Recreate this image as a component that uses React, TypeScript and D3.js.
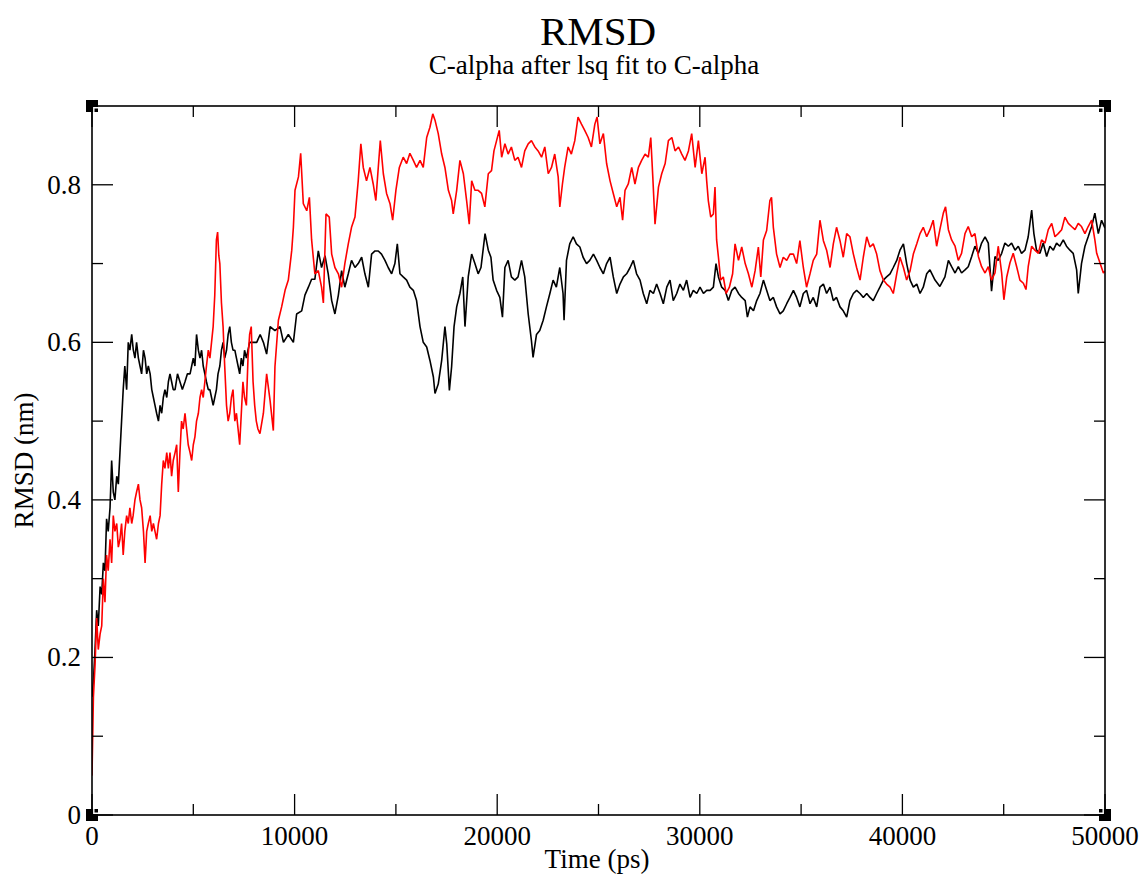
import React from "react";
import * as d3 from "d3";

// ---- data (time in ps, RMSD in nm) ----
const blackSeries: [number, number][] = [
  [0,0.15],[70,0.17],[150,0.21],[230,0.26],[310,0.24],[400,0.29],[480,0.28],[560,0.32],[640,0.31],[720,0.376],[800,0.36],[890,0.39],[970,0.45],[1050,0.41],[1130,0.40],[1220,0.43],[1300,0.42],[1380,0.46],[1460,0.50],[1540,0.54],[1620,0.57],[1710,0.54],[1790,0.60],[1870,0.59],[1960,0.61],[2040,0.59],[2120,0.58],[2200,0.60],[2290,0.58],[2370,0.57],[2450,0.56],[2540,0.59],[2620,0.58],[2700,0.56],[2780,0.57],[2870,0.56],[2950,0.54],[3030,0.53],[3110,0.52],[3190,0.51],[3280,0.50],[3360,0.52],[3440,0.51],[3520,0.53],[3600,0.54],[3690,0.53],[3770,0.55],[3850,0.56],[3930,0.55],[4010,0.54],[4100,0.54],[4220,0.56],[4340,0.55],[4460,0.54],[4590,0.55],[4710,0.56],[4840,0.56],[4920,0.57],[5000,0.58],[5080,0.57],[5160,0.61],[5250,0.59],[5330,0.58],[5410,0.59],[5490,0.57],[5570,0.56],[5650,0.55],[5740,0.54],[5820,0.54],[5900,0.53],[5980,0.52],[6060,0.53],[6140,0.54],[6220,0.56],[6310,0.57],[6390,0.59],[6470,0.60],[6550,0.58],[6640,0.59],[6720,0.61],[6800,0.62],[6880,0.60],[6960,0.59],[7050,0.59],[7130,0.58],[7210,0.57],[7290,0.56],[7370,0.58],[7450,0.57],[7530,0.59],[7620,0.58],[7700,0.59],[7780,0.60],
  [7950,0.60],[8130,0.60],[8300,0.61],[8460,0.60],[8620,0.585],[8790,0.62],[9030,0.615],[9280,0.62],[9450,0.60],[9690,0.61],[9940,0.60],[10100,0.636],[10350,0.64],[10510,0.66],[10680,0.67],[10840,0.68],[11000,0.68],[11170,0.716],[11330,0.695],[11500,0.71],[11660,0.687],[11830,0.653],[11990,0.636],[12160,0.66],[12320,0.691],[12480,0.67],[12650,0.687],[12810,0.704],[12980,0.695],[13140,0.70],[13310,0.708],[13470,0.687],[13640,0.67],[13800,0.712],[13970,0.716],[14130,0.716],[14290,0.712],[14460,0.704],[14620,0.695],[14790,0.687],[14950,0.70],[15070,0.725],[15200,0.687],[15360,0.683],[15530,0.679],[15690,0.67],[15860,0.666],[16020,0.653],[16190,0.62],
  [16350,0.60],[16520,0.594],[16680,0.577],[16850,0.556],[16930,0.535],[17090,0.547],[17260,0.577],[17420,0.62],[17510,0.598],[17640,0.539],[17750,0.569],[17870,0.62],[18000,0.645],[18160,0.662],[18300,0.683],[18410,0.62],[18570,0.683],[18740,0.712],[18900,0.70],[19060,0.687],[19200,0.695],[19400,0.738],[19560,0.717],[19690,0.708],[19800,0.679],[19970,0.666],[20130,0.657],[20260,0.632],[20380,0.695],[20540,0.704],[20700,0.683],[20870,0.679],[21030,0.683],[21200,0.704],[21360,0.683],[21530,0.636],[21690,0.602],[21770,0.581],[21940,0.61],[22100,0.615],[22270,0.628],[22430,0.645],[22600,0.662],[22760,0.679],[22920,0.67],[23090,0.695],[23250,0.662],[23300,0.628],[23420,0.704],[23580,0.725],[23750,0.734],[23910,0.725],[24080,0.721],[24240,0.708],[24410,0.70],[24570,0.704],
  [24750,0.712],[24910,0.704],[25070,0.695],[25240,0.687],[25400,0.70],[25570,0.708],[25730,0.683],[25900,0.662],[26060,0.674],[26230,0.683],[26390,0.687],[26560,0.695],[26720,0.704],[26880,0.687],[27050,0.679],[27210,0.662],[27380,0.649],[27540,0.666],[27710,0.662],[27870,0.674],[28040,0.662],[28200,0.649],[28370,0.67],[28530,0.679],[28690,0.653],[28860,0.662],[29020,0.674],[29190,0.666],[29350,0.679],[29520,0.657],[29680,0.666],[29850,0.662],[30010,0.67],[30180,0.662],[30340,0.666],[30510,0.666],[30670,0.67],[30800,0.70],[30920,0.683],[31080,0.67],[31250,0.666],[31410,0.653],[31580,0.666],[31740,0.67],[31910,0.662],[32070,0.657],[32240,0.653],[32350,0.632],[32480,0.645],[32650,0.64],[32810,0.653],
  [32970,0.662],[33140,0.679],[33300,0.666],[33460,0.653],[33630,0.657],[33790,0.645],[33960,0.636],[34120,0.64],[34290,0.649],[34450,0.657],[34620,0.666],[34780,0.657],[34940,0.645],[35110,0.662],[35270,0.666],[35440,0.649],[35600,0.657],[35770,0.645],[35930,0.67],[36100,0.674],[36260,0.662],[36430,0.67],[36590,0.653],[36750,0.657],[36920,0.645],[37080,0.64],[37250,0.632],[37410,0.653],[37580,0.662],[37740,0.666],[37910,0.662],[38070,0.657],[38240,0.662],[38400,0.657],[38560,0.653],[38730,0.662],[38890,0.67],[39060,0.679],[39220,0.683],[39390,0.687],[39550,0.695],[39720,0.704],[39880,0.717],[40050,0.725],[40210,0.70],[40380,0.679],[40540,0.67],[40710,0.674],[40870,0.662],[41030,0.67],[41200,0.687],
  [41360,0.692],[41610,0.679],[41850,0.671],[42100,0.683],[42270,0.704],[42430,0.696],[42600,0.688],[42760,0.696],[42920,0.688],[43090,0.692],[43250,0.696],[43420,0.709],[43580,0.722],[43750,0.713],[43910,0.726],[44080,0.734],[44240,0.726],[44400,0.665],[44570,0.709],[44730,0.704],[44900,0.713],[45060,0.726],[45230,0.722],[45390,0.726],[45560,0.717],[45720,0.722],[45880,0.713],[46050,0.717],[46210,0.734],[46380,0.768],[46490,0.738],[46620,0.717],[46790,0.713],[46950,0.726],[47120,0.709],[47280,0.722],[47450,0.717],[47610,0.726],[47770,0.722],[47940,0.73],[48100,0.722],[48270,0.717],[48430,0.713],[48600,0.692],[48680,0.662],[48840,0.70],[49010,0.722],[49170,0.734],[49340,0.747],[49500,0.764],[49670,0.738],[49830,0.755],[50000,0.745],
];

const redSeries: [number, number][] = [
  [0,0.05],[70,0.15],[150,0.19],[230,0.25],[310,0.21],[400,0.23],[480,0.24],[560,0.30],[640,0.27],[720,0.33],[800,0.31],[890,0.35],[970,0.32],[1050,0.38],[1130,0.36],[1220,0.37],[1300,0.34],[1380,0.35],[1460,0.37],[1540,0.33],[1620,0.36],[1710,0.38],[1790,0.37],[1870,0.39],[1960,0.37],[2030,0.38],[2120,0.40],[2200,0.41],[2290,0.42],[2370,0.40],[2450,0.39],[2540,0.36],[2620,0.32],[2700,0.36],[2780,0.37],[2870,0.38],[2950,0.36],[3030,0.37],[3110,0.36],[3190,0.35],[3280,0.37],[3360,0.38],[3440,0.42],[3520,0.45],[3600,0.44],[3690,0.46],[3770,0.44],[3850,0.46],[3930,0.43],[4010,0.45],[4100,0.46],[4180,0.47],[4260,0.41],[4340,0.46],[4420,0.50],[4500,0.49],[4590,0.51],[4670,0.49],[4750,0.47],[4840,0.46],[4920,0.45],[5000,0.47],[5080,0.48],[5160,0.50],[5250,0.51],[5330,0.53],[5410,0.54],[5490,0.53],[5570,0.55],[5650,0.57],[5740,0.59],[5820,0.58],[5900,0.60],[5980,0.62],[6060,0.66],[6140,0.73],[6200,0.74],[6260,0.71],[6310,0.70],[6390,0.65],[6470,0.62],[6550,0.57],[6640,0.52],[6720,0.50],[6800,0.51],[6880,0.53],[6960,0.54],[7050,0.50],[7130,0.51],[7210,0.49],[7290,0.47],[7370,0.51],[7450,0.55],[7530,0.53],[7620,0.52],[7700,0.58],[7780,0.61],[7860,0.62],[7950,0.55],[8030,0.52],[8110,0.50],[8190,0.49],[8290,0.484],[8460,0.51],[8620,0.56],[8790,0.526],[8950,0.488],[9030,0.569],[9200,0.628],[9360,0.645],[9530,0.666],[9690,0.679],[9860,0.717],[9940,0.746],[10020,0.793],[10190,0.81],[10300,0.84],[10430,0.776],[10600,0.767],[10730,0.784],[10840,0.73],[11000,0.687],[11170,0.691],[11330,0.67],[11420,0.65],[11550,0.763],[11710,0.759],[11830,0.712],[11990,0.695],[12160,0.687],[12320,0.67],[12480,0.70],[12650,0.725],[12810,0.746],[12980,0.759],[13140,0.805],[13270,0.852],[13390,0.822],[13550,0.805],[13720,0.822],[13880,0.801],[14010,0.78],[14130,0.822],[14230,0.856],[14380,0.814],[14540,0.789],[14710,0.776],[14840,0.755],[15000,0.793],[15170,0.822],[15360,0.835],[15530,0.827],[15690,0.84],[15860,0.831],[16020,0.822],[16190,0.831],
  [16350,0.822],[16520,0.86],[16680,0.873],[16820,0.89],[16930,0.882],[17090,0.865],[17260,0.839],[17420,0.822],[17590,0.793],[17750,0.78],[17830,0.763],[18000,0.793],[18160,0.831],[18330,0.814],[18490,0.78],[18620,0.75],[18740,0.805],[18900,0.793],[19060,0.793],[19230,0.789],[19390,0.772],[19560,0.814],[19720,0.818],[19840,0.843],[19970,0.856],[20100,0.869],[20220,0.835],[20380,0.852],[20540,0.839],[20700,0.848],[20870,0.831],[21030,0.835],[21200,0.822],[21360,0.843],[21530,0.852],[21690,0.856],[21860,0.848],[22020,0.843],[22190,0.835],[22350,0.848],[22520,0.814],[22680,0.822],[22840,0.839],[23010,0.81],[23090,0.772],[23220,0.801],[23330,0.822],[23500,0.848],[23660,0.839],[23830,0.856],[23990,0.886],[24160,0.877],[24320,0.869],[24490,0.86],[24650,0.848],[24820,0.877],[24930,0.886],
  [25070,0.852],[25240,0.865],[25400,0.827],[25570,0.805],[25730,0.789],[25900,0.772],[26060,0.784],[26190,0.755],[26310,0.793],[26470,0.801],[26640,0.822],[26800,0.801],[26970,0.822],[27130,0.831],[27300,0.839],[27460,0.835],[27580,0.86],[27680,0.81],[27790,0.75],[27960,0.797],[28120,0.814],[28290,0.827],[28450,0.856],[28620,0.86],[28780,0.843],[28950,0.848],[29110,0.839],[29270,0.831],[29440,0.843],[29600,0.865],[29770,0.822],[29930,0.856],[30100,0.814],[30260,0.835],[30340,0.805],[30420,0.78],[30540,0.759],[30670,0.763],[30750,0.797],[30830,0.73],[30920,0.708],[31030,0.679],[31160,0.683],[31300,0.662],[31460,0.67],[31620,0.687],[31740,0.725],[31910,0.704],[32070,0.721],[32240,0.70],[32400,0.687],[32570,0.67],[32730,0.691],[32890,0.721],[33010,0.683],
  [33140,0.73],[33300,0.742],[33460,0.78],[33540,0.784],[33630,0.746],[33790,0.712],[33960,0.695],[34120,0.708],[34290,0.704],[34450,0.712],[34620,0.712],[34780,0.70],[34940,0.729],[35110,0.695],[35270,0.67],[35440,0.687],[35600,0.704],[35770,0.712],[35930,0.755],[36100,0.729],[36260,0.717],[36430,0.695],[36590,0.725],[36750,0.746],[36920,0.729],[37080,0.708],[37250,0.738],[37410,0.734],[37580,0.712],[37740,0.695],[37910,0.679],[38070,0.708],[38240,0.734],[38400,0.721],[38560,0.725],[38730,0.712],[38890,0.691],[39060,0.679],[39220,0.674],[39390,0.67],[39550,0.662],[39720,0.687],[39880,0.708],[40050,0.695],[40210,0.679],[40380,0.691],[40540,0.712],[40710,0.725],[40870,0.738],[41030,0.746],[41200,0.734],
  [41360,0.743],[41520,0.755],[41690,0.722],[41850,0.743],[42020,0.764],[42130,0.772],[42270,0.743],[42430,0.73],[42600,0.722],[42760,0.704],[42920,0.713],[43090,0.738],[43250,0.747],[43420,0.734],[43580,0.738],[43750,0.709],[43910,0.696],[44080,0.688],[44240,0.696],[44400,0.679],[44570,0.688],[44730,0.722],[44900,0.688],[45010,0.654],[45150,0.683],[45310,0.701],[45470,0.713],[45640,0.696],[45800,0.679],[45970,0.675],[46100,0.667],[46210,0.696],[46380,0.722],[46540,0.717],[46710,0.713],[46870,0.73],[47040,0.726],[47200,0.743],[47370,0.751],[47530,0.734],[47690,0.738],[47860,0.743],[48020,0.759],[48190,0.751],[48350,0.747],[48520,0.743],[48680,0.751],[48840,0.747],[49010,0.738],[49170,0.747],[49340,0.755],[49500,0.73],[49590,0.713],[49750,0.701],[49920,0.688],[50000,0.69],
];

const xMajorTicks = [0, 10000, 20000, 30000, 40000, 50000];
const xMinorTicks = [5000, 15000, 25000, 35000, 45000];
const yMajorTicks = [0, 0.2, 0.4, 0.6, 0.8];
const yMinorTicks = [0.1, 0.3, 0.5, 0.7];
const yTickLabels = ["0", "0.2", "0.4", "0.6", "0.8"];

const titleText = "RMSD";
const subtitleText = "C-alpha after lsq fit to C-alpha";
const xLabelText = "Time (ps)";
const yLabelText = "RMSD (nm)";

const W = 1143;
const H = 879;
const L = 92, R = 1105, T = 106, B = 815;
const FONT = "'Liberation Serif', 'Times New Roman', serif";

export default function App() {
  const x = d3.scaleLinear().domain([0, 50000]).range([L, R]);
  const y = d3.scaleLinear().domain([0, 0.9]).range([B, T]);
  const line = d3
    .line<[number, number]>()
    .x((d) => x(d[0]))
    .y((d) => y(d[1]));

  const major = 21;
  const minor = 11;
  const corners: [number, number, number, number][] = [
    [L, T, 1, 1],
    [R, T, -1, 1],
    [L, B, 1, -1],
    [R, B, -1, -1],
  ];

  return (
    <svg
      width={W}
      height={H}
      style={{ position: "absolute", left: 0, top: 0, background: "#fff" }}
    >
      <rect x={0} y={0} width={W} height={H} fill="#fff" />
      <text x={598} y={45} fontFamily={FONT} fontSize={41} textAnchor="middle" fill="#000">
        {titleText}
      </text>
      <text x={594} y={74} fontFamily={FONT} fontSize={27} textAnchor="middle" fill="#000">
        {subtitleText}
      </text>

      <defs>
        <clipPath id="plotclip">
          <rect x={L} y={T} width={R - L} height={B - T} />
        </clipPath>
      </defs>
      <g clipPath="url(#plotclip)">
        <path d={line(blackSeries) || ""} fill="none" stroke="#000" strokeWidth={1.6} strokeLinejoin="bevel" />
        <path d={line(redSeries) || ""} fill="none" stroke="#ff0000" strokeWidth={1.6} strokeLinejoin="bevel" />
      </g>

      {/* ticks */}
      <g stroke="#000" strokeWidth={1.3}>
        {xMajorTicks.map((t) => (
          <g key={"xM" + t}>
            <line x1={x(t)} x2={x(t)} y1={B} y2={B - major} />
            <line x1={x(t)} x2={x(t)} y1={T} y2={T + major} />
          </g>
        ))}
        {xMinorTicks.map((t) => (
          <g key={"xm" + t}>
            <line x1={x(t)} x2={x(t)} y1={B} y2={B - minor} />
            <line x1={x(t)} x2={x(t)} y1={T} y2={T + minor} />
          </g>
        ))}
        {yMajorTicks.map((t) => (
          <g key={"yM" + t}>
            <line x1={L} x2={L + major} y1={y(t)} y2={y(t)} />
            <line x1={R} x2={R - major} y1={y(t)} y2={y(t)} />
          </g>
        ))}
        {yMinorTicks.map((t) => (
          <g key={"ym" + t}>
            <line x1={L} x2={L + minor} y1={y(t)} y2={y(t)} />
            <line x1={R} x2={R - minor} y1={y(t)} y2={y(t)} />
          </g>
        ))}
      </g>

      {/* frame */}
      <rect x={L} y={T} width={R - L} height={B - T} fill="none" stroke="#000" strokeWidth={1.6} />

      {/* corner markers */}
      {corners.map(([cx, cy, dx, dy], i) => (
        <g key={"c" + i}>
          <rect x={cx - 6} y={cy - 6} width={12} height={12} fill="#000" />
          <polyline
            points={`${cx + dx * 1.8},${cy + dy * 6} ${cx + dx * 1.8},${cy + dy * 1.8} ${cx + dx * 6},${cy + dy * 1.8}`}
            fill="none"
            stroke="#fff"
            strokeWidth={1.4}
          />
        </g>
      ))}

      {/* tick labels */}
      {xMajorTicks.map((t) => (
        <text key={"xl" + t} x={x(t)} y={845} fontFamily={FONT} fontSize={27} textAnchor="middle" fill="#000">
          {String(t)}
        </text>
      ))}
      {yMajorTicks.map((t, i) => (
        <text key={"yl" + t} x={81} y={y(t) + 9} fontFamily={FONT} fontSize={27} textAnchor="end" fill="#000">
          {yTickLabels[i]}
        </text>
      ))}

      <text x={597} y={868} fontFamily={FONT} fontSize={27} textAnchor="middle" fill="#000">
        {xLabelText}
      </text>
      <text
        transform={`translate(33, ${(T + B) / 2}) rotate(-90)`}
        fontFamily={FONT}
        fontSize={27}
        textAnchor="middle"
        fill="#000"
      >
        {yLabelText}
      </text>
    </svg>
  );
}
